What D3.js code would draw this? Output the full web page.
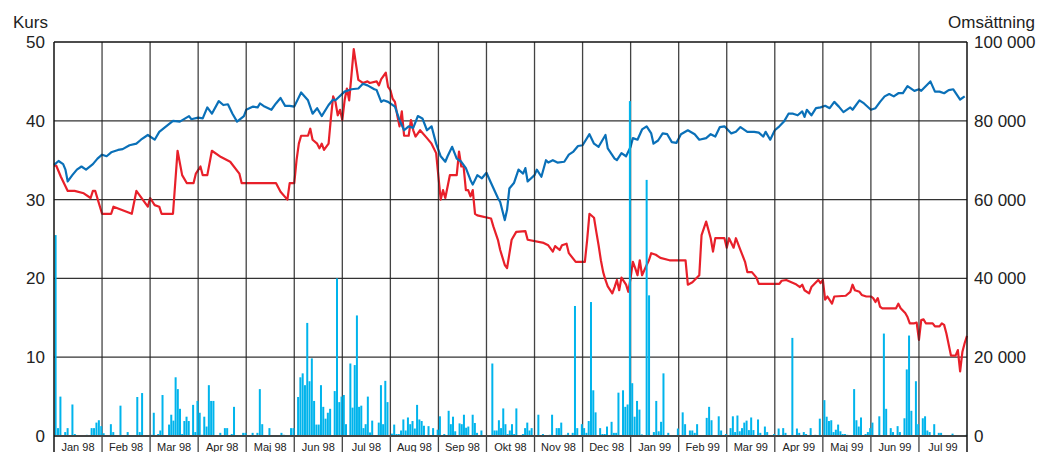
<!DOCTYPE html>
<html>
<head>
<meta charset="utf-8">
<script src="https://cdn.jsdelivr.net/npm/d3@7"></script>
<style>
  body { margin: 0; background: #fff; }
  svg text { font-family: "Liberation Sans", Arial, sans-serif; fill: #222; }
</style>
</head>
<body>
<svg id="chart"></svg>
<script>
// manader, 21 handelsdagar per manad
var months = ["Jan 98","Feb 98","Mar 98","Apr 98","Maj 98","Jun 98","Jul 98","Aug 98","Sep 98","Okt 98",
              "Nov 98","Dec 98","Jan 99","Feb 99","Mar 99","Apr 99","Maj 99","Jun 99","Jul 99"];
var kursTicks = [0, 10, 20, 30, 40, 50];
var omsTicks = [0, 20000, 40000, 60000, 80000, 100000];

// kurs (bla) : [dag, kurs]
var blaKurs = [[0,34.4],[2,34.9],[4,34.5],[5,33.8],[6,32.3],[8,33.1],[10,33.8],[12,34.2],[14,33.8],[17,34.5],
  [19,35.2],[21,35.7],[23,35.5],[25,36],[28,36.3],[30,36.4],[33,36.9],[36,37.1],[38,37.6],[41,38.2],[44,37.6],
  [46,38.6],[49,39.3],[52,40],[55,39.9],[59,40.6],[60,40.2],[63,40.4],[65,40.3],[67,41.7],[69,40.9],[72,42.5],
  [74,42],[76,42.1],[78,40.9],[80,39.9],[83,40.6],[84,41.4],[87,41.8],[89,41.7],[90,42.2],[92,41.8],[95,41.4],
  [97,42.2],[99,42.9],[101,41.9],[103,41.9],[105,41.8],[108,43.6],[111,42.6],[113,40.9],[115,41.6],[117,40.6],
  [120,42],[122,42.7],[123,42.6],[127,43.7],[130,44],[133,44.1],[135,44.7],[137,44.5],[140,44],[141,43.9],
  [143,42.4],[144,42.6],[146,42.4],[149,41.8],[151,40.1],[153,38.8],[155,39.3],[157,39.1],[159,40.6],[161,40.3],
  [163,38.8],[165,39.3],[167,37.1],[169,35.5],[171,34.8],[172,35.5],[174,36.7],[176,35.2],[178,34.8],[180,34],
  [182,32.5],[183,31.9],[185,33.1],[187,32.7],[189,33.4],[191,32.1],[194,30.2],[195,29.7],[197,27.4],[198,28.7],
  [199,31.4],[201,32.1],[203,33.8],[205,33.3],[206,34],[207,32.3],[210,33.1],[211,33.8],[213,32.9],[215,35],
  [216,34.7],[218,35],[220,34.7],[223,34.8],[225,35.7],[227,36.1],[229,36.8],[231,36.9],[234,38.3],[236,37.1],
  [238,36.7],[241,38.2],[242,36.5],[245,35.2],[246,35],[248,35.9],[250,35.5],[252,36.7],[253,37.8],[255,37.6],
  [257,38.9],[259,39.3],[261,38.4],[262,37.1],[264,37.5],[266,38.4],[268,38.3],[270,37.3],[272,37.2],[274,38.3],
  [277,38.8],[280,38.3],[282,37.6],[285,37.8],[287,38.3],[289,38],[291,39.2],[293,39.3],[296,38.4],[298,38.6],
  [300,39.2],[303,38.6],[306,38.6],[308,38.5],[310,38],[311,38.6],[313,37.6],[315,38.8],[317,39.3],[319,39.9],
  [321,40.9],[323,40.9],[325,40.7],[327,41.2],[328,40.5],[329,41.4],[331,40.7],[333,41.6],[335,41.7],[337,41.9],
  [339,41.6],[341,42.4],[343,41.8],[345,41.1],[348,41.7],[349,41.4],[352,42.6],[354,42.2],[357,41.4],[359,41.6],
  [361,42.4],[363,43.1],[365,43.4],[367,43.1],[369,43.5],[371,43.5],[373,44.4],[376,43.8],[378,44],[379,43.8],
  [383,45],[385,43.7],[387,43.7],[389,43.5],[391,43.9],[393,44],[396,42.7],[398,43.1]];

// kurs (rod) : [dag, kurs]
var rodKurs = [[0,34.3],[1,34.3],[3,32.9],[4,32.3],[6,31.1],[9,31.1],[13,30.8],[16,30.2],[17,31.1],[18,31.1],
  [21,28.2],[25,28.2],[26,29.1],[34,28.2],[36,31.1],[41,29.1],[42,30.2],[44,29.3],[46,29.1],[47,28.2],[52,28.2],
  [54,36.2],[56,33.1],[58,32.1],[61,32.1],[62,33.3],[64,34.2],[65,33.1],[67,33.1],[69,36.2],[73,35.4],[77,34.8],
  [81,33.3],[82,32.1],[97,32.1],[99,31],[102,30],[103,32.1],[105,32.1],[106,35],[107,37.1],[108,38.1],[111,38.1],
  [112,39],[113,37.6],[115,37.1],[116,36.5],[117,37.1],[118,36.3],[120,37.1],[121,40.3],[122,43.1],[123,42.4],
  [124,40.7],[125,41.4],[126,40.1],[127,42.6],[128,44.1],[129,42.6],[130,45.8],[131,49.1],[133,45.2],[134,45],
  [135,44.8],[137,45],[138,44.8],[141,45],[142,44.5],[143,45.3],[145,46.1],[146,44.3],[147,43.9],[148,42.8],
  [149,42.4],[150,40.7],[151,39.3],[152,41.2],[153,38.1],[155,38.1],[156,40.1],[157,38.8],[158,38],[160,38.8],
  [163,37.8],[165,37.1],[167,35.9],[169,30],[170,31.2],[171,30.2],[173,33.1],[176,33.1],[177,36.1],[178,34.2],
  [179,34.2],[180,31.2],[181,31.2],[182,30.4],[183,31.2],[184,28.2],[185,28],[191,27.6],[192,26.6],[194,24.9],
  [195,23.6],[197,21.7],[198,21.3],[200,24.9],[202,25.9],[206,26],[207,24.9],[214,24.5],[216,24.2],[218,23.4],
  [219,24.1],[221,23.6],[222,24.2],[224,24.4],[225,23.2],[228,22.1],[232,22.1],[233,24.9],[234,28.2],[236,27.7],
  [237,25.9],[238,24.2],[239,22.3],[240,20.8],[241,19.8],[242,19],[244,18.1],[245,18.9],[246,19.8],[247,18.5],
  [248,20.1],[250,19.2],[251,18.3],[252,20.1],[253,22.1],[254,21.3],[255,20.4],[256,22.3],[257,20.4],[259,21.7],
  [260,22.3],[261,23.2],[263,23],[265,22.6],[269,22.3],[276,22.3],[277,19.2],[279,19.5],[282,20.4],[283,25.5],
  [285,27.2],[287,25.1],[288,23.4],[289,25.1],[293,25.1],[294,23.9],[295,25.1],[297,23.9],[298,25.1],[300,23.6],
  [302,22.1],[303,20.8],[305,20.8],[307,20.1],[308,19.3],[317,19.3],[318,19.7],[320,19.8],[324,19.3],[326,18.9],
  [327,19.2],[328,18.5],[330,18.1],[331,18.9],[333,19.5],[334,19.8],[335,19.4],[336,19.8],[337,17.3],[338,17.7],
  [340,16.8],[341,17.7],[346,17.8],[348,18.3],[349,19.2],[350,18.5],[352,18.3],[353,17.9],[355,17.7],[357,17.7],
  [358,17.5],[359,17],[360,17.5],[361,16.4],[362,16.2],[368,16.2],[369,16.8],[370,16.2],[372,15.6],[373,15.1],
  [374,14.3],[376,14.3],[377,14.4],[378,12.2],[379,14.7],[380,14.8],[381,14.3],[384,14.3],[385,13.9],[387,13.9],
  [388,14.3],[389,14.1],[390,13],[392,10.2],[394,10.2],[395,10.9],[396,8.2],[397,10.7],[398,11.8],[399,12.7]];

// omsattning per dag, tusental, en rad per manad
var omsattning = [
  [51,2,10,0,1,2,0,8,0.5,0,0,0,0,0.3,0,2,2,3.4,4,2.5],
  [0.7,0,0,3,1,0,0,7.7,0,0,1,0,0,0,9.9,1,10.9,0,0,0],
  [0.3,5.9,0,0.5,1.4,10.4,0,0,2.9,5.4,3.9,14.9,11.9,6.9,0.5,3.8,4.9,3.8,0,7.9,1,8.9],
  [5.9,0.3,4.9,2.4,12.9,8.9,8.9,0,0,0.8,0,2,2,0,0.5,7.4,0,0,0,0.8,0.8],
  [0,0,0.8,0,0.8,11.9,3,0,0,2,0,0,0,0,0.8,0.3,0,0,2,2],
  [0,9.9,14.9,15.9,12.9,28.7,13.9,19.7,8.9,2.9,2.9,12.9,7.4,4.4,5.9,6.9,0,11.4,40,8.6,10],
  [10.4,3,0,18.4,7.2,18,30.6,7.4,7.7,2,3,10,0.9,3.9,0,0,3.4,12.9,3,14,8.6,0],
  [0.6,2.9,0.5,0.5,1.4,4.2,1.4,4.7,3,3.8,1.9,7.9,4.2,3.8,2.6,0,2.5,0,2,0,1.6],
  [5,0,0.5,0,6.4,3,4.9,1.2,0,3.2,3,5.4,2.1,2.4,0,5.4,3.3,0.8,0,1.4,0,0],
  [0,0,18.4,1.4,1.4,4,2,7,3,0.5,1.4,3,0.5,7,0,0,0.5,2,3.4,1.4,2,0],
  [0,5.4,0,0.5,0,0,0.3,5.4,0,2,2,3.4,0,0.3,0.8,0,0.8,33,2,0,3],
  [2,0.8,3.8,34,11.6,6,0,2,0.5,0.5,2.4,0,3.6,0.8,0.8,11,0,11.6,7.4,8,85],
  [13.4,4.9,8.9,6.7,0.4,0,65,35.7,0,1,8.9,1.2,3.6,15.9,0,0.8,0,0,0,1.9],
  [0,6,3,0,1.4,1.4,0.8,3,0,0,0,4.6,7.4,4,0,0,5,1.4,0,0.5],
  [0,2,5,1,5.2,1.2,2,3.4,3.9,1.5,4.7,1.5,0,4.2,0.8,0,2.4,1,0,0,0.5],
  [0,1.9,0,2,0.8,0,0,24.9,0,1.9,0.8,0,1,0.5,0,2,0,0.3,0,4.4,0],
  [9.1,4.9,3.8,4,1,1.6,2.9,1.2,0.5,0.5,0.3,0,0,11.9,4,2.4,4.7,0,0.5,1,2],
  [3.4,0,0,5,0,26,6.9,0,2,1,0,2.5,1,0,4.5,16.9,25.5,6.4,0,13.9,3],
  [0,4.5,5,1.4,1,0,3,0,0.8,0.8,0,0,0,0,0.6,0,0,0,0,0,0.3]
];

var width = 1039, height = 452;
var margin = {top: 42, right: 72, bottom: 16, left: 54};
var daysPerMonth = 21;

var svg = d3.select("#chart").attr("width", width).attr("height", height);

var x = d3.scaleLinear().domain([0, months.length * daysPerMonth])
          .range([margin.left, width - margin.right]);
var xMonth = d3.scaleBand().domain(months).range([margin.left, width - margin.right]);
var yKurs = d3.scaleLinear().domain([0, 50]).range([height - margin.bottom, margin.top]);
var yOms = d3.scaleLinear().domain([0, 100000]).range([height - margin.bottom, margin.top]);

// stapeldata
var bars = [];
omsattning.forEach(function(arr, m) {
  arr.forEach(function(v, i) {
    bars.push({day: m * daysPerMonth + (i + 0.5) * daysPerMonth / arr.length, value: v * 1000});
  });
});

// horisontella linjer
svg.append("g").selectAll("line")
  .data(kursTicks.slice(1, -1))
  .enter().append("line")
  .attr("x1", margin.left).attr("x2", width - margin.right)
  .attr("y1", function(d) { return yKurs(d); })
  .attr("y2", function(d) { return yKurs(d); })
  .attr("stroke", "#333").attr("stroke-width", 1.3);

var line = d3.line()
  .x(function(d) { return x(d[0]); })
  .y(function(d) { return yKurs(d[1]); });

svg.append("path").datum(rodKurs)
  .attr("d", line).attr("fill", "none")
  .attr("stroke", "#e8202a").attr("stroke-width", 2.2).attr("stroke-linejoin", "round");

svg.append("path").datum(blaKurs)
  .attr("d", line).attr("fill", "none")
  .attr("stroke", "#0a70b8").attr("stroke-width", 2.2).attr("stroke-linejoin", "round");

// manadslinjer
svg.append("g").selectAll("line")
  .data(months.slice(1))
  .enter().append("line")
  .attr("x1", function(d) { return xMonth(d); })
  .attr("x2", function(d) { return xMonth(d); })
  .attr("y1", margin.top).attr("y2", height)
  .attr("stroke", "#222").attr("stroke-width", 1.3).attr("stroke-opacity", 0.85);

svg.append("g").selectAll("rect")
  .data(bars.filter(function(d) { return d.value > 0; }))
  .enter().append("rect")
  .attr("x", function(d) { return x(d.day) - 0.6; })
  .attr("width", 2)
  .attr("y", function(d) { return yOms(d.value); })
  .attr("height", function(d) { return yOms(0) - yOms(d.value); })
  .attr("fill", "#00b4ec");

// ram
svg.append("line").attr("x1", margin.left).attr("x2", width - margin.right)
  .attr("y1", margin.top).attr("y2", margin.top).attr("stroke", "#111").attr("stroke-width", 1.5);
svg.append("line").attr("x1", margin.left).attr("x2", width - margin.right)
  .attr("y1", yKurs(0)).attr("y2", yKurs(0)).attr("stroke", "#444").attr("stroke-width", 2);
svg.append("line").attr("x1", margin.left).attr("x2", margin.left)
  .attr("y1", margin.top).attr("y2", height).attr("stroke", "#111").attr("stroke-width", 1.5);
svg.append("line").attr("x1", width - margin.right).attr("x2", width - margin.right)
  .attr("y1", margin.top).attr("y2", height).attr("stroke", "#111").attr("stroke-width", 1.5);

// axlar
var leftAxis = svg.append("g")
  .attr("transform", "translate(" + margin.left + ",0)")
  .call(d3.axisLeft(yKurs).tickValues(kursTicks).tickSize(0).tickPadding(9));
var rightAxis = svg.append("g")
  .attr("transform", "translate(" + (width - margin.right) + ",0)")
  .call(d3.axisRight(yOms).tickValues(omsTicks).tickSize(0).tickPadding(7)
    .tickFormat(function(d) { return d3.format(",")(d).replace(/,/g, " "); }));
[leftAxis, rightAxis].forEach(function(g) {
  g.select(".domain").remove();
  g.selectAll("text").attr("font-size", 17).attr("font-family", null).attr("fill", "#222");
});

svg.append("g").selectAll("text")
  .data(months)
  .enter().append("text")
  .attr("x", function(d) { return xMonth(d) + xMonth.bandwidth() / 2; })
  .attr("y", 451)
  .attr("text-anchor", "middle")
  .attr("font-size", 11)
  .text(function(d) { return d; });

svg.append("text").attr("x", 13).attr("y", 28).attr("font-size", 17).text("Kurs");
svg.append("text").attr("x", 1035).attr("y", 28).attr("font-size", 17)
  .attr("text-anchor", "end").text("Omsättning");
</script>
</body>
</html>
